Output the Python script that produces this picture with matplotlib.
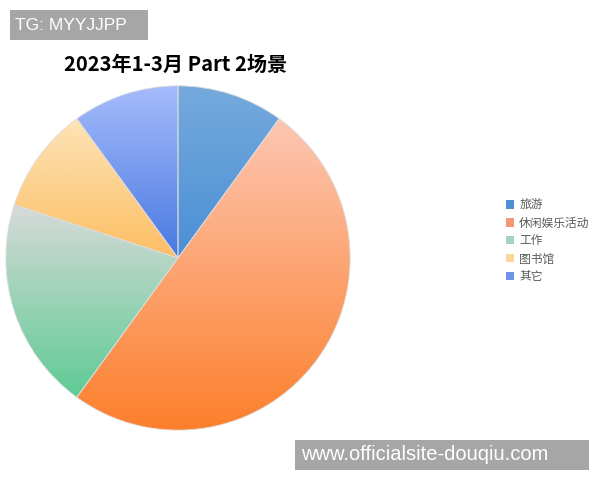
import numpy as np
import matplotlib
matplotlib.use('Agg')
import matplotlib.pyplot as plt
from matplotlib.colors import LinearSegmentedColormap
from matplotlib.patches import Patch, Rectangle

plt.rcParams['font.family'] = ['Noto Sans CJK SC', 'DejaVu Sans']

# data
labels = ['旅游', '休闲娱乐活动', '工作', '图书馆', '其它']
values = [10, 50, 20, 10, 10]
top_colors = ['#76aadc', '#fcc7b3', '#d7dad9', '#fde4b7', '#a6bbfc']
bottom_colors = ['#4a8fd5', '#fd7f2c', '#5ecb94', '#fdbe63', '#4879e0']
legend_colors = ['#4f8fd4', '#f59877', '#a8d2bf', '#fbd59b', '#6e95e8']

fig = plt.figure(figsize=(6, 4.8), dpi=100)
ax = fig.add_axes([5 / 600, 49 / 480, 346 / 600, 346 / 480])

wedges, _ = ax.pie(values, startangle=90, counterclock=False, radius=1,
                   wedgeprops=dict(edgecolor='#dddddd', linewidth=0.6))

grad = np.linspace(0, 1, 256).reshape(-1, 1)
for w, c1, c2 in zip(wedges, top_colors, bottom_colors):
    ext = w.get_path().get_extents()
    cmap = LinearSegmentedColormap.from_list('g', [c2, c1])
    w.set_facecolor('none')
    im = ax.imshow(grad, cmap=cmap, origin='lower', aspect='auto',
                   extent=[ext.x0, ext.x1, ext.y0, ext.y1], zorder=0)
    im.set_clip_path(w)

ax.set_xlim(-1.005, 1.005)
ax.set_ylim(-1.005, 1.005)
ax.set_aspect('equal')
ax.axis('off')

handles = [Patch(facecolor=c, edgecolor='none') for c in legend_colors]
leg = fig.legend(handles, labels, loc='center left', bbox_to_anchor=(495 / 600, 1 - 241 / 480),
                 frameon=False, fontsize=8.5, handlelength=0.7, handleheight=0.7,
                 handletextpad=0.45, labelspacing=0.42)
for t in leg.get_texts():
    t.set_color('#595959')

fig.text(176 / 600, 1 - 64 / 480, '2023年1-3月 Part 2场景', ha='center', va='center',
         fontsize=14.5, fontweight='bold', color='black')

# watermarks
fig.add_artist(Rectangle((10 / 600, 1 - 40 / 480), 138 / 600, 30 / 480,
                         transform=fig.transFigure, facecolor='#a6a6a6', edgecolor='none'))
fig.text(15 / 600, 1 - 25 / 480, 'TG: MYYJJPP', ha='left', va='center', fontsize=12.5,
         color='white', family='Liberation Sans')
fig.add_artist(Rectangle((295 / 600, 1 - 470 / 480), 294 / 600, 30 / 480,
                         transform=fig.transFigure, facecolor='#a6a6a6', edgecolor='none'))
fig.text(301 / 600, 1 - 455 / 480, 'www.officialsite-douqiu.com', ha='left', va='center',
         fontsize=14.5, color='white', family='Liberation Sans')

fig.savefig('out.png', dpi=100)
